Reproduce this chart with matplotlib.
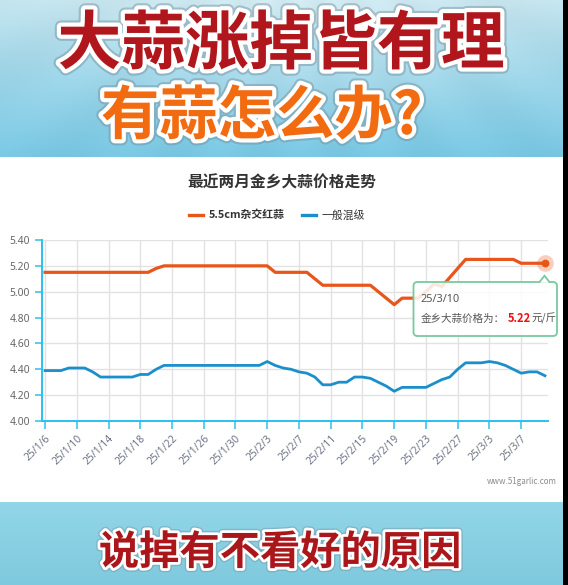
import numpy as np
import pandas as pd
import matplotlib
matplotlib.use("Agg")
import matplotlib.pyplot as plt
from matplotlib import patheffects as pe
from matplotlib.patches import FancyBboxPatch, Polygon, Rectangle

CJK = ['Noto Sans CJK SC', 'DejaVu Sans']
plt.rcParams['font.family'] = CJK

# ---------------- data ----------------
dates = pd.date_range("2025-01-06", "2025-03-10", freq="D")
date_labels = [f"{d.year % 100}/{d.month}/{d.day}" for d in dates]

red_garlic = [
    5.15, 5.15, 5.15, 5.15, 5.15, 5.15, 5.15, 5.15, 5.15, 5.15, 5.15, 5.15, 5.15, 5.15,
    5.18,
    5.20, 5.20, 5.20, 5.20, 5.20, 5.20, 5.20, 5.20, 5.20, 5.20, 5.20, 5.20, 5.20, 5.20,
    5.15, 5.15, 5.15, 5.15, 5.15,
    5.10,
    5.05, 5.05, 5.05, 5.05, 5.05, 5.05, 5.05,
    5.00, 4.95, 4.90,
    4.95, 4.95, 4.95,
    5.00, 5.06, 5.04, 5.11, 5.18,
    5.25, 5.25, 5.25, 5.25, 5.25, 5.25, 5.25,
    5.22, 5.22, 5.22, 5.22,
]
mixed_grade = [
    4.39, 4.39, 4.39, 4.41, 4.41, 4.41, 4.38, 4.34,
    4.34, 4.34, 4.34, 4.34,
    4.36, 4.36, 4.40,
    4.43, 4.43, 4.43, 4.43, 4.43, 4.43, 4.43, 4.43, 4.43, 4.43, 4.43, 4.43, 4.43,
    4.46, 4.43, 4.41, 4.40, 4.38, 4.37, 4.34, 4.28, 4.28, 4.30, 4.30, 4.34, 4.34,
    4.33, 4.30, 4.27, 4.23,
    4.26, 4.26, 4.26, 4.26,
    4.29, 4.32, 4.34, 4.40,
    4.45, 4.45, 4.45,
    4.46, 4.45, 4.43, 4.40, 4.37, 4.38, 4.38, 4.35,
]
series_names = ["5.5cm杂交红蒜", "一般混级"]
y_ticks = [4.00, 4.20, 4.40, 4.60, 4.80, 5.00, 5.20, 5.40]
label_step = 4

ORANGE = "#e8561c"
BLUE = "#1b8fca"
AXIS_CYAN = "#2cc0ee"
GRID = "#e2e2e2"

W, H = 568, 585
fig = plt.figure(figsize=(W / 100, H / 100), dpi=100)

# ---------------- background (pixel coordinates) ----------------
bg = fig.add_axes([0, 0, 1, 1], zorder=0)
bg.set_xlim(0, W)
bg.set_ylim(H, 0)
bg.axis("off")

# sky banner
bh = 157
yy, xx = np.mgrid[0:bh, 0:W]
t = yy / bh
top_c = np.array([0.76, 0.89, 0.93])
bot_c = np.array([0.47, 0.78, 0.89])
sky = top_c[None, None, :] * (1 - t[..., None]) + bot_c[None, None, :] * t[..., None]
r = np.hypot((xx - 300) / 330.0, (yy + 40) / 190.0)
glow = np.clip(1 - r, 0, 1) ** 1.5
sky = sky * (1 - 0.55 * glow[..., None]) + np.array([0.93, 0.97, 0.98]) * 0.55 * glow[..., None]
ang = np.arctan2(xx - 300, yy + 120)
rays = 0.5 + 0.5 * np.cos(ang * 22)
sky = np.clip(sky + 0.02 * (rays[..., None] - 0.5), 0, 1)
bg.imshow(sky, extent=[0, W, bh, 0], aspect="auto", zorder=0, interpolation="bilinear")

# white chart panel
bg.add_patch(Rectangle((0, bh), W, 502 - bh, facecolor="white", edgecolor="none", zorder=1))

# lower banner
lh = H - 502
t2 = np.linspace(0, 1, lh)[:, None, None]
low = np.array([0.57, 0.84, 0.91]) * (1 - t2) + np.array([0.50, 0.79, 0.87]) * t2
low = np.repeat(low, W, axis=1)
bg.imshow(low, extent=[0, W, H, 502], aspect="auto", zorder=1)

# dark strip at the right edge
bg.add_patch(Rectangle((563, 0), 5, H, facecolor="black", edgecolor="none", zorder=5))

outline = [pe.Stroke(linewidth=9, foreground=(0.45, 0.55, 0.6, 0.45)),
           pe.Stroke(linewidth=6, foreground="white"), pe.Normal()]
bg.text(281, 45, "大蒜涨掉皆有理", fontsize=46, fontweight="bold", color="#b0161b",
        ha="center", va="center", family=CJK, path_effects=outline, zorder=3)
bg.text(262, 117, "有蒜怎么办?", fontsize=42, fontweight="bold", color="#f26b10",
        ha="center", va="center", family=CJK, path_effects=outline, zorder=3)
outline_small = [pe.Stroke(linewidth=6, foreground=(0.45, 0.55, 0.6, 0.4)),
                 pe.Stroke(linewidth=4, foreground="white"), pe.Normal()]
bg.text(280, 553, "说掉有不看好的原因", fontsize=29, fontweight="bold", color="#ab161b",
        ha="center", va="center", family=CJK, path_effects=outline_small, zorder=3)

# chart title and watermark
bg.text(281.5, 183, "最近两月金乡大蒜价格走势", fontsize=11.3, fontweight="bold",
        color="#333333", ha="center", va="center", family=CJK, zorder=3)
bg.text(557, 482, "www.51garlic.com", fontsize=5.8, color="#8a8a8a",
        ha="right", va="center", zorder=3)

# ---------------- chart ----------------
x0, x1, ytop, ybot = 41.7, 548.3, 240, 421
ax = fig.add_axes([x0 / W, 1 - ybot / H, (x1 - x0) / W, (ybot - ytop) / H], zorder=2)
ax.patch.set_alpha(0)

xs = np.arange(len(dates))
l1, = ax.plot(xs, red_garlic, color=ORANGE, lw=2.3, solid_joinstyle="round", zorder=4,
              label=series_names[0])
l2, = ax.plot(xs, mixed_grade, color=BLUE, lw=2.0, solid_joinstyle="round", zorder=3,
              label=series_names[1])

ax.set_xlim(-0.42, len(dates) - 1 + 0.42)
ax.set_ylim(y_ticks[0], y_ticks[-1])
ax.set_yticks(y_ticks)
ax.set_yticklabels([f"{v:.2f}" for v in y_ticks])
tick_pos = xs[::label_step]
ax.set_xticks(tick_pos)
ax.set_xticklabels([date_labels[i] for i in tick_pos], rotation=45, ha="right",
                   rotation_mode="anchor")

for s in ("top", "right"):
    ax.spines[s].set_visible(False)
for s in ("left", "bottom"):
    ax.spines[s].set_color(AXIS_CYAN)
    ax.spines[s].set_linewidth(1.4)
    ax.spines[s].set_zorder(5)
ax.tick_params(axis="y", length=4.8, width=1.1, color=AXIS_CYAN, pad=3.5,
               labelsize=7.4, labelcolor="#666666")
ax.tick_params(axis="x", length=6, width=1.1, color=AXIS_CYAN, pad=3,
               labelsize=7.4, labelcolor="#6c7585")
for lab in ax.get_xticklabels() + ax.get_yticklabels():
    lab.set_family(["Noto Sans", "DejaVu Sans"])
ax.grid(True, color=GRID, lw=1.0, zorder=0)
ax.set_axisbelow(True)

# highlighted last point
last_x, last_y = xs[-1], red_garlic[-1]
ax.plot(last_x, last_y, "o", ms=12, color=ORANGE, alpha=0.28, mec="none", zorder=6,
        clip_on=False)
ax.plot(last_x, last_y, "o", ms=5.6, color=ORANGE, mec="none", zorder=7, clip_on=False)

leg = fig.legend(handles=[l1, l2], loc="center", bbox_to_anchor=(277 / W, 1 - 215 / H),
                 ncol=2, frameon=False, handlelength=1.3, handletextpad=0.5,
                 columnspacing=1.6, prop={"family": CJK, "size": 7.8})
for txt in leg.get_texts():
    txt.set_color("#333333")
leg.get_texts()[0].set_fontweight("bold")
for h in leg.legend_handles:
    h.set_linewidth(2.4)

# ---------------- tooltip ----------------
fig.canvas.draw()
px, py = ax.transData.transform((last_x, last_y))
dot_px, dot_py = px, H - py

ov = fig.add_axes([0, 0, 1, 1], zorder=10)
ov.set_xlim(0, W)
ov.set_ylim(H, 0)
ov.axis("off")
GREEN = "#79c99e"
bx, by, bw, bhgt = 413.5, 282, 143.5, 54
ov.add_patch(FancyBboxPatch((bx, by), bw, bhgt, boxstyle="round,pad=0,rounding_size=4",
                            facecolor=(1, 1, 1, 0.86), edgecolor=GREEN, lw=1.3, zorder=1))
apex_y = dot_py + 12.5
tri = [(dot_px - 5.5, by + 0.8), (dot_px - 0.5, apex_y), (dot_px + 4.5, by + 0.8)]
ov.add_patch(Polygon(tri, closed=True, facecolor="white", edgecolor="none", zorder=2))
ov.plot([tri[0][0], tri[1][0], tri[2][0]], [by, tri[1][1], by], color=GREEN, lw=1.3,
        zorder=3, solid_joinstyle="miter")
ov.text(420, 300, date_labels[-1], fontsize=7.8, color="#555555", va="center",
        family=["Noto Sans", "DejaVu Sans"], zorder=4)
ov.text(420.5, 318.5, "金乡大蒜价格为：", fontsize=7.6, color="#555555", va="center",
        family=CJK, zorder=4)
ov.text(507.5, 318.5, f"{last_y:.2f}", fontsize=8.0, color="#ee1111", fontweight="bold",
        va="center", family=CJK, zorder=4)
ov.text(531, 318.5, "元/斤", fontsize=7.6, color="#555555", va="center",
        family=CJK, zorder=4)

fig.savefig("out.png", dpi=100)
